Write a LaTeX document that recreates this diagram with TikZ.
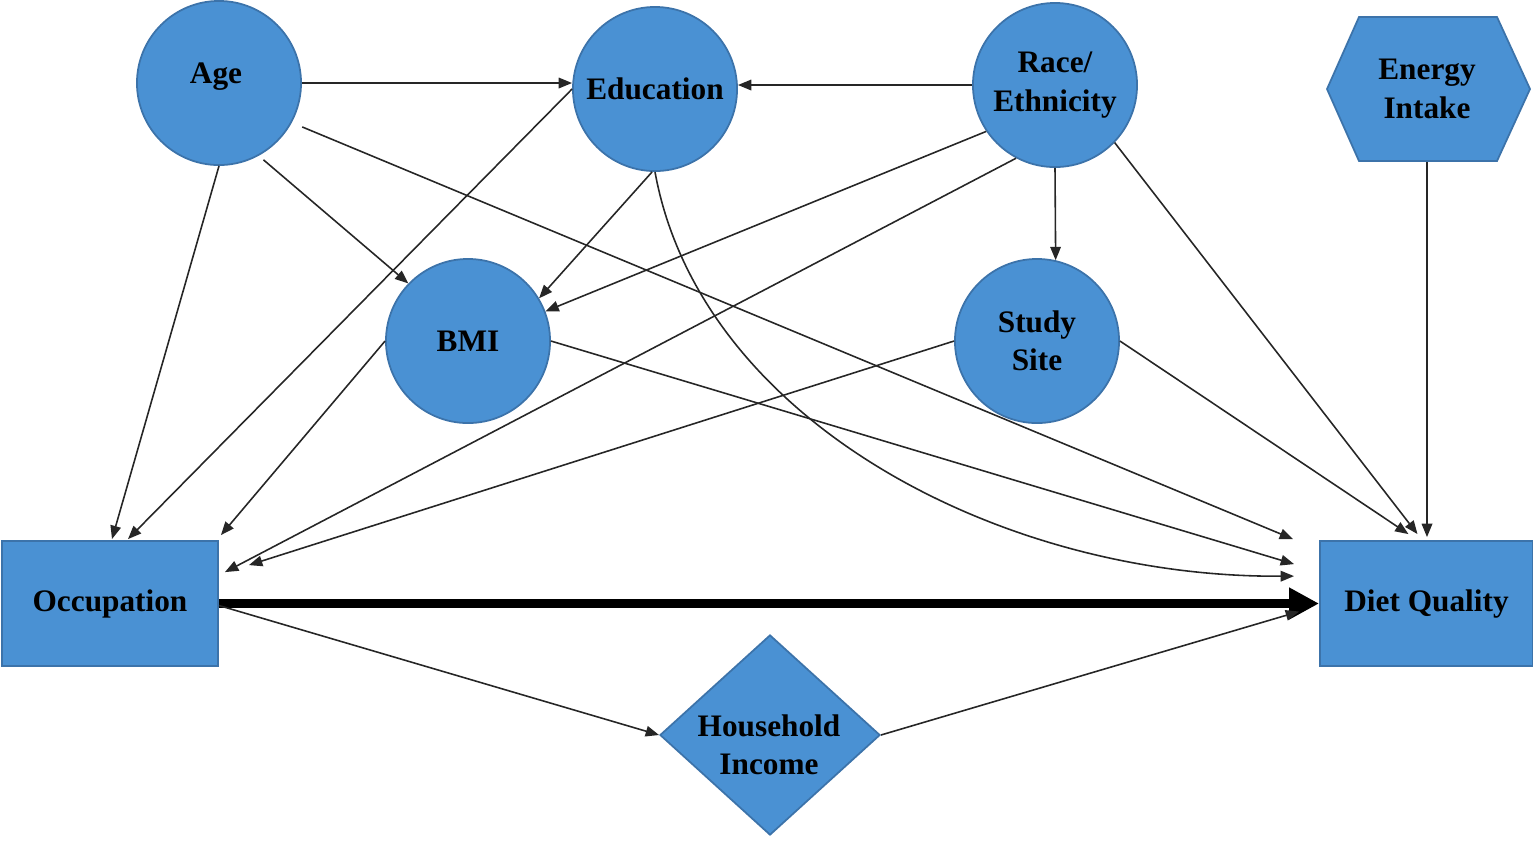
\documentclass[tikz,border=0pt]{standalone}
\usepackage{fontspec}
\setmainfont{Liberation Serif}
\usetikzlibrary{arrows.meta,shapes.geometric,calc}
\definecolor{nodefill}{RGB}{74,145,211}
\definecolor{nodeborder}{RGB}{60,115,170}
\tikzset{
  base/.style={fill=nodefill, draw=nodeborder, line width=0.5pt, align=center,
    font=\fontsize{8.9}{10.9}\selectfont\bfseries, inner sep=0pt},
  circ/.style={base, circle, minimum size=1.64cm},
  boxnode/.style={base, rectangle, minimum width=2.15cm, minimum height=1.25cm},
  diam/.style={base, diamond, aspect=1.1, minimum width=2.2cm, minimum height=2.0cm},
  textonly/.style={align=center, font=\fontsize{8.9}{10.9}\selectfont\bfseries, inner sep=0pt},
  arr/.style={draw=black!85, line width=0.45pt, -{Triangle[length=3.8pt,width=3pt]}},
  thickarr/.style={draw=black, line width=2.4pt, -{Triangle[length=8.5pt,width=8.5pt]}}
}
\begin{document}
\begin{tikzpicture}[x=0.01cm,y=-0.01cm]
\useasboundingbox (0,0) rectangle (1533,841);
% hexagon shape for Energy Intake
\filldraw[fill=nodefill, draw=nodeborder, line width=0.5pt]
  (1359,17) -- (1497,17) -- (1530,89) -- (1497,161) -- (1359,161) -- (1327,89) -- cycle;
\node[circ] (age) at (219,83) {};
\node[textonly] (agetext) at (216,77) {Age};
\node[circ] (edu) at (655,89) {Education};
\node[circ] (race) at (1055,85) {Race/\\Ethnicity};
\node[textonly, minimum width=2.03cm, minimum height=1.44cm] (energy) at (1427,89) {Energy\\Intake};
\node[circ] (bmi) at (468,341) {BMI};
\node[circ] (study) at (1037,341) {Study\\Site};
\node[boxnode, minimum width=2.16cm] (occ) at (110,603.5) {Occupation};
\node[boxnode, minimum width=2.13cm] (diet) at (1426.5,603.5) {Diet Quality};
\node[diam] (hh) at (770,735) {};
\node[textonly] (hhtext) at (769,745) {Household\\Income};

% edges
\draw[arr] (age.east) -- (age.east -| edu.west);
\draw[arr] (race.west) -- (race.west -| edu.east);
\draw[arr] (edu.west) -- ($(occ.north)+(18,-1)$);
\draw[arr] (age.south) -- ($(occ.north)+(2,-1)$);
\draw[arr] ($(age.-60)+(3,5)$) -- (bmi.136);
\draw[arr] ($(age.-28)+(10,5)$) -- ($(diet.north west)+(-26,-1)$);
\draw[arr] (edu.-92) -- (bmi.31);
\draw[arr] (edu.south) .. controls (700,420) and (1000,578) .. ($(diet.north west)+(-25,36)$);
\draw[arr] (race.214) -- (bmi.21);
\draw[arr] (race.242) -- ($(occ.north east)+(6,32)$);
\draw[arr] (race.south) -- (study.77);
\draw[arr] (race.-44) -- ($(diet.north)+(-9,-6)$);
\draw[arr] (energy.south) -- ($(energy.south |- diet.north)+(0,-3)$);
\draw[arr] (bmi.west) -- ($(occ.north east)+(2,-5)$);
\draw[arr] (bmi.east) -- ($(diet.north west)+(-25,24)$);
\draw[arr] (study.west) -- ($(occ.north east)+(30,25)$);
\draw[arr] (study.east) -- ($(diet.north)+(-18,-6)$);
\draw[thickarr] (occ.east) -- (diet.west);
\draw[arr] ($(occ.east)+(0,2)$) -- (hh.west);
\draw[arr] (hh.east) -- ($(diet.west)+(-20,8)$);
\end{tikzpicture}
\end{document}
